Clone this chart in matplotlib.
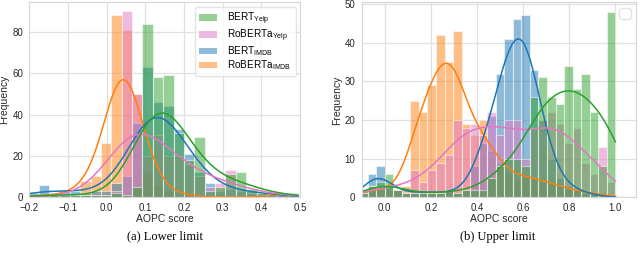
import numpy as np
import matplotlib.pyplot as plt
from matplotlib.patches import Patch

plt.rcParams['font.family'] = ['Liberation Sans', 'DejaVu Sans']
plt.rcParams['mathtext.fontset'] = 'custom'
plt.rcParams['mathtext.rm'] = 'Liberation Sans'
plt.rcParams['mathtext.it'] = 'Liberation Sans:italic'

labels = [r'BERT$_{\mathrm{Yelp}}$', r'RoBERTa$_{\mathrm{Yelp}}$',
          r'BERT$_{\mathrm{IMDB}}$', r'RoBERTa$_{\mathrm{IMDB}}$']
colors = ['#2ca02c', '#e377c2', '#1f77b4', '#ff7f0e']

# (a) lower limit: 26 bins
lower_edges = np.linspace(-0.2028, 0.4945, 27)
lower_bert_yelp = [1, 1, 1, 1, 1, 1, 1, 1, 2, 1, 5, 84, 58, 59, 31, 18, 29, 3, 5, 11, 12, 4, 2, 1, 1, 2]
lower_roberta_yelp = [0, 0, 1, 1, 1, 1, 1, 1, 3, 90, 50, 20, 30, 20, 20, 16, 10, 5, 7, 13, 4, 2, 1, 1, 1, 1]
lower_bert_imdb = [2, 6, 2, 3, 3, 2, 3, 3, 7, 10, 36, 63, 46, 44, 33, 21, 12, 7, 3, 4, 3, 3, 2, 1, 1, 0]
lower_roberta_imdb = [1, 1, 1, 1, 2, 8, 10, 26, 88, 81, 50, 12, 6, 3, 1, 1, 0, 0, 0, 0, 0, 0, 0, 1, 2, 1]
lower_bw = [0.06, 0.07, 0.055, 0.04]

# (b) upper limit: 30 bins
upper_edges = np.linspace(-0.111, 1.0, 31)
upper_bert_yelp = [1, 3, 4, 6, 2, 1, 1, 1, 1, 1, 2, 1, 2, 2, 2, 5, 8, 10, 10, 8,
                   26, 31, 26, 24, 34, 28, 32, 22, 8, 48]
upper_roberta_yelp = [1, 3, 3, 3, 2, 1, 7, 4, 7, 9, 11, 20, 18, 19, 16, 22, 16, 20, 20, 10,
                      18, 20, 22, 19, 14, 18, 9, 6, 13, 4]
upper_bert_imdb = [2, 6, 8, 3, 2, 1, 1, 2, 1, 1, 2, 1, 2, 8, 14, 21, 32, 41, 46, 47,
                   33, 20, 10, 5, 3, 2, 1, 1, 0, 0]
upper_roberta_imdb = [2, 2, 2, 2, 2, 3, 25, 22, 29, 42, 35, 43, 19, 16, 20, 12, 9, 6, 5, 6,
                      5, 4, 4, 3, 2, 2, 1, 1, 1, 0]
upper_bw = [0.08, 0.08, 0.05, 0.055]


def kde_curve(edges, counts, bw):
    centers = (edges[:-1] + edges[1:]) / 2
    counts = np.asarray(counts, float)
    grid = np.linspace(edges[0], edges[-1], 400)
    z = (grid[:, None] - centers[None, :]) / bw
    dens = (counts * np.exp(-0.5 * z ** 2)).sum(1) / (bw * np.sqrt(2 * np.pi))
    return grid, dens * np.diff(edges).mean()


def draw(ax, edges, series, bws):
    width = np.diff(edges)
    # first hue level ends up on top, like seaborn's layered histplot
    for counts, col, bw in list(zip(series, colors, bws))[::-1]:
        ax.bar(edges[:-1], counts, width=width, align='edge', color=col, alpha=0.5,
               edgecolor='white', linewidth=0.8)
        gx, gy = kde_curve(edges, counts, bw)
        ax.plot(gx, gy, color=col, lw=1.1)
    ax.set_axisbelow(True)
    ax.grid(True, color='#e0e0e0', lw=0.9)
    for s in ax.spines.values():
        s.set_color('#d6d6d6')
    ax.tick_params(length=0, labelsize=7, colors='#262626')
    ax.tick_params(axis='x', pad=4)
    ax.tick_params(axis='y', pad=4.5)
    ax.set_xlabel('AOPC score', fontsize=7.5, labelpad=1, color='#262626')
    ax.set_ylabel('Frequency', fontsize=7.5, labelpad=2, color='#262626')


fig = plt.figure(figsize=(6.4, 2.6), dpi=100)
ax1 = fig.add_axes([0.046, 0.242, 0.423, 0.75])
ax2 = fig.add_axes([0.565, 0.241, 0.429, 0.75])

draw(ax1, lower_edges,
     [lower_bert_yelp, lower_roberta_yelp, lower_bert_imdb, lower_roberta_imdb], lower_bw)
ax1.set_xlim(-0.2, 0.5)
ax1.set_ylim(0, 94.5)
ax1.set_xticks(np.arange(-0.2, 0.51, 0.1))
ax1.set_yticks([0, 20, 40, 60, 80])
handles = [Patch(facecolor=c, alpha=0.5, edgecolor='none') for c in colors]
ax1.legend(handles, labels, loc='upper right', fontsize=7.2, frameon=True,
           edgecolor='#dcdcdc', borderaxespad=0.45, handlelength=1.8, handleheight=0.6,
           handletextpad=1.0, labelspacing=0.05, borderpad=0.4)

draw(ax2, upper_edges,
     [upper_bert_yelp, upper_roberta_yelp, upper_bert_imdb, upper_roberta_imdb], upper_bw)
ax2.set_xlim(-0.1, 1.09)
ax2.set_ylim(0, 50.4)
ax2.set_xticks(np.arange(0, 1.01, 0.2))
ax2.set_yticks([0, 10, 20, 30, 40, 50])
ax2.legend(handles=[], loc='upper right', edgecolor='#dcdcdc', borderaxespad=0.4)

fig.text(0.258, 0.09, '(a) Lower limit', ha='center', va='center', fontsize=9,
         family='Liberation Serif')
fig.text(0.777, 0.09, '(b) Upper limit', ha='center', va='center', fontsize=9,
         family='Liberation Serif')

fig.savefig('out.png', dpi=100)
